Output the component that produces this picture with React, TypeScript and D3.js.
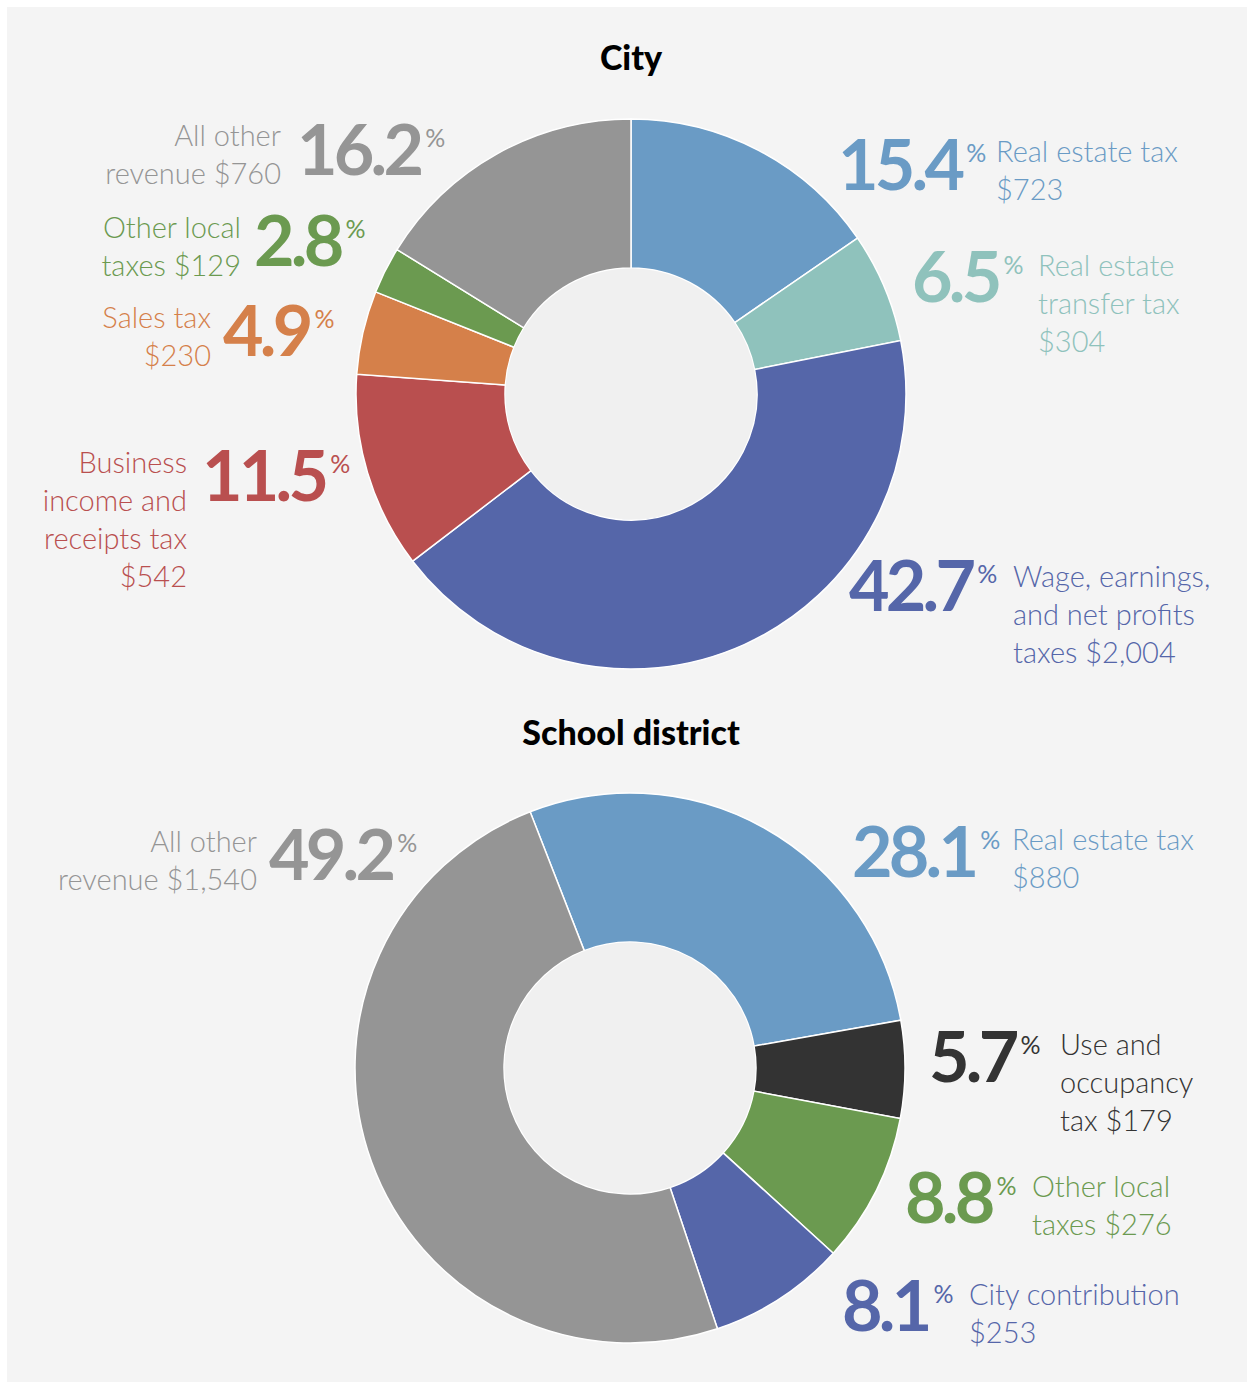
import React from "react";
import * as d3 from "d3";

// ---------- DATA ----------
const cityCategories = [
  "Real estate tax",
  "Real estate transfer tax",
  "Wage, earnings, and net profits taxes",
  "Business income and receipts tax",
  "Sales tax",
  "Other local taxes",
  "All other revenue",
];
const cityAmounts = [723, 304, 2004, 542, 230, 129, 760];
const cityPercents = ["15.4", "6.5", "42.7", "11.5", "4.9", "2.8", "16.2"];
const cityLabelLines = [
  ["Real estate tax", "$723"],
  ["Real estate", "transfer tax", "$304"],
  ["Wage, earnings,", "and net profits", "taxes $2,004"],
  ["Business", "income and", "receipts tax", "$542"],
  ["Sales tax", "$230"],
  ["Other local", "taxes $129"],
  ["All other", "revenue $760"],
];
const cityColors = ["#6a9bc5", "#8fc2bc", "#5566a9", "#b94f4f", "#d5804a", "#6b9a50", "#959595"];

const schoolCategories = [
  "Real estate tax",
  "Use and occupancy tax",
  "Other local taxes",
  "City contribution",
  "All other revenue",
];
const schoolAmounts = [880, 179, 276, 253, 1540];
const schoolPercents = ["28.1", "5.7", "8.8", "8.1", "49.2"];
const schoolLabelLines = [
  ["Real estate tax", "$880"],
  ["Use and", "occupancy", "tax $179"],
  ["Other local", "taxes $276"],
  ["City contribution", "$253"],
  ["All other", "revenue $1,540"],
];
const schoolColors = ["#6a9bc5", "#333333", "#6b9a50", "#5566a9", "#959595"];

const titles = ["City", "School district"];

// ---------- LAYOUT ----------
type LabelPos = { side: "left" | "right"; numX: number; numY: number; labelX: number; labelY: number };

const cityLayout: LabelPos[] = [
  { side: "right", numX: 838, numY: 190, labelX: 996, labelY: 162 },
  { side: "right", numX: 912, numY: 302, labelX: 1038, labelY: 276 },
  { side: "right", numX: 849, numY: 611, labelX: 1013, labelY: 587 },
  { side: "left", numX: 202, numY: 501, labelX: 187, labelY: 473 },
  { side: "left", numX: 223, numY: 356, labelX: 211, labelY: 328 },
  { side: "left", numX: 254, numY: 266, labelX: 241, labelY: 238 },
  { side: "left", numX: 297, numY: 175, labelX: 281, labelY: 146 },
];
const schoolLayout: LabelPos[] = [
  { side: "right", numX: 852, numY: 877, labelX: 1012, labelY: 850 },
  { side: "right", numX: 929, numY: 1082, labelX: 1060, labelY: 1055 },
  { side: "right", numX: 905, numY: 1223, labelX: 1032, labelY: 1197 },
  { side: "right", numX: 842, numY: 1331, labelX: 969, labelY: 1305 },
  { side: "left", numX: 269, numY: 880, labelX: 257, labelY: 852 },
];

const FONT = "Lato, 'Open Sans', sans-serif";
const LINE = 38;

function Donut(props: {
  cx: number;
  cy: number;
  amounts: number[];
  colors: string[];
  startDeg: number;
  percents: string[];
  lines: string[][];
  layout: LabelPos[];
  categories: string[];
}) {
  const { cx, cy, amounts, colors, startDeg, percents, lines, layout, categories } = props;
  const start = (startDeg * Math.PI) / 180;
  const pie = d3
    .pie<number>()
    .sort(null)
    .value((d) => d)
    .startAngle(start)
    .endAngle(start + 2 * Math.PI);
  const arcs = pie(amounts);
  const outerR = 275;
  const innerR = 126;
  const arc = d3.arc<d3.PieArcDatum<number>>().innerRadius(innerR).outerRadius(outerR);
  return (
    <g>
      <g transform={`translate(${cx},${cy})`}>
        {arcs.map((a, i) => (
          <path key={i} d={arc(a) || ""} fill={colors[i]} stroke="#ffffff" strokeWidth={1.5}>
            <title>{categories[i]}</title>
          </path>
        ))}
        <circle r={innerR - 0.5} fill="#f0f0f0" />
      </g>
      {layout.map((p, i) => (
        <g key={i} fill={colors[i]} fontFamily={FONT}>
          <text x={p.numX} y={p.numY} fontSize={70} fontWeight={700} letterSpacing={-3.8}>
            {percents[i]}
            <tspan fontSize={25} fontWeight={400} dx={5} dy={-28} letterSpacing={0}>
              %
            </tspan>
          </text>
          <text
            x={p.labelX}
            y={p.labelY}
            fontSize={29}
            fontWeight={300}
            textAnchor={p.side === "left" ? "end" : "start"}
          >
            {lines[i].map((l, j) => (
              <tspan key={j} x={p.labelX} y={p.labelY + j * LINE}>
                {l}
              </tspan>
            ))}
          </text>
        </g>
      ))}
    </g>
  );
}

export default function App() {
  return (
    <svg
      width={1250}
      height={1383}
      style={{ position: "absolute", left: 0, top: 0, display: "block" }}
    >
      <rect x={0} y={0} width={1250} height={1383} fill="#ffffff" />
      <rect x={7} y={7} width={1240} height={1375} fill="#f4f4f4" />
      <text x={631} y={70} textAnchor="middle" fontFamily={FONT} fontWeight={900} fontSize={34} fill="#000">
        {titles[0]}
      </text>
      <text x={631} y={745} textAnchor="middle" fontFamily={FONT} fontWeight={900} fontSize={34} fill="#000">
        {titles[1]}
      </text>
      <Donut
        cx={631}
        cy={394}
        amounts={cityAmounts}
        colors={cityColors}
        startDeg={0}
        percents={cityPercents}
        lines={cityLabelLines}
        layout={cityLayout}
        categories={cityCategories}
      />
      <Donut
        cx={630}
        cy={1068}
        amounts={schoolAmounts}
        colors={schoolColors}
        startDeg={-21.3}
        percents={schoolPercents}
        lines={schoolLabelLines}
        layout={schoolLayout}
        categories={schoolCategories}
      />
    </svg>
  );
}
